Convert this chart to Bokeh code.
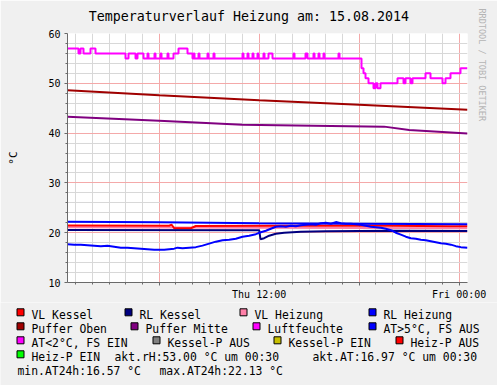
import math
from bokeh.plotting import figure
from bokeh.layouts import column
from bokeh.models import Range1d, FixedTicker, Title, ColumnDataSource
from bokeh.core.properties import value
from bokeh.embed import file_html
from bokeh.resources import INLINE

FONT = "DejaVu Sans Mono"

title_text = "Temperaturverlauf Heizung am: 15.08.2014"
y_label = "°C"
watermark = "RRDTOOL / TOBI OETIKER"

# time in hours since Thu 14.08.2014 00:00
x_start, x_end = 0.5, 24.5
y_min, y_max = 10, 60
x_tick_labels = {6: "", 12: "Thu 12:00", 18: "", 24: "Fri 00:00"}
y_ticks = [10, 20, 30, 40, 50, 60]

# Aussentemperatur (AT)
at_t = [0.5, 0.9, 1.3, 1.7, 2.1, 2.5, 2.9, 3.3, 3.7, 4.1, 4.5, 4.9, 5.3, 5.7, 6.0,
        6.3, 6.6, 6.9, 7.1, 7.4, 7.8, 8.2, 8.6, 9.0, 9.4, 9.8, 10.2, 10.6, 11.0,
        11.4, 11.8, 12.1, 12.4, 12.7, 13.0, 13.3, 13.6, 13.9, 14.2, 14.5, 14.8,
        15.1, 15.4, 15.7, 16.0, 16.3, 16.6, 16.9, 17.2, 17.5, 17.8, 18.1, 18.4,
        18.7, 19.0, 19.3, 19.6, 19.9, 20.2, 20.5, 20.8, 21.1, 21.4, 21.7, 22.0,
        22.3, 22.6, 22.9, 23.2, 23.5, 23.8, 24.1, 24.5]
at_v = [17.7, 17.6, 17.6, 17.5, 17.4, 17.3, 17.4, 17.2, 17.0, 17.0, 16.9, 16.8,
        16.7, 16.6, 16.57, 16.6, 16.7, 16.8, 17.0, 16.9, 17.0, 17.1, 17.4, 17.8,
        18.2, 18.5, 18.6, 18.8, 19.2, 19.4, 19.7, 20.1, 20.4, 20.8, 21.2, 21.3,
        21.2, 21.4, 21.3, 21.5, 21.6, 21.7, 21.6, 21.9, 22.0, 21.8, 22.13, 21.9,
        21.8, 21.8, 21.7, 21.6, 21.4, 21.2, 21.1, 21.0, 20.8, 20.5, 20.0, 19.6,
        19.2, 18.9, 18.8, 18.6, 18.5, 18.3, 18.1, 17.9, 17.8, 17.6, 17.3, 17.1,
        16.97]

# Luftfeuchte (relative humidity, step series)
rh_t = [0.50, 1.16, 1.28, 1.46, 1.88, 2.18, 3.98, 4.16, 4.58, 4.70, 5.06, 5.30,
        5.36, 5.72, 5.78, 6.08, 6.14, 6.50, 6.56, 6.86, 7.16, 7.70, 8.00, 8.06,
        8.12, 8.36, 8.42, 8.90, 8.96, 9.26, 9.32, 11.00, 11.06, 11.30, 11.36,
        11.60, 11.66, 11.90, 11.96, 12.26, 12.32, 12.56, 12.80, 14.06, 14.12,
        14.78, 14.90, 15.26, 15.32, 15.56, 15.62, 15.86, 15.92, 16.76, 16.82,
        18.14, 18.26, 18.38, 18.56, 18.86, 18.98, 19.10, 19.28, 20.30, 20.66,
        20.78, 21.08, 21.20, 21.98, 22.28, 23.00, 23.18, 23.48, 24.08, 24.50]
rh_v = [57, 56, 57, 56, 57, 56, 55, 56, 55, 56, 55, 56,
        55, 56, 55, 56, 55, 56, 55, 56, 57, 56, 55, 56,
        55, 56, 55, 56, 55, 56, 55, 56, 55, 56, 55,
        56, 55, 56, 55, 56, 55, 56, 55, 56, 55,
        56, 55, 56, 55, 56, 55, 56, 55, 56, 55,
        53, 52, 51, 50, 49, 50, 49, 50, 51, 50,
        51, 50, 51, 52, 51, 50, 51, 52, 53, 53]

# Pufferspeicher
po_t = [0.5, 6.0, 12.0, 18.0, 24.5]
po_v = [48.6, 47.6, 46.6, 45.7, 44.7]
pm_t = [0.5, 6.0, 11.0, 19.5, 21.0, 24.5]
pm_v = [43.3, 42.5, 41.7, 41.3, 40.6, 39.9]

# Heizkreis / Kessel
rlh_t = [0.5, 6.0, 12.0, 18.0, 24.5]
rlh_v = [22.2, 22.1, 21.9, 21.8, 21.7]
vlh_t = [0.5, 12.0, 18.0, 24.5]
vlh_v = [21.1, 21.0, 20.95, 20.9]
vlk_t = [0.5, 6.6, 6.75, 6.9, 7.9, 8.2, 18.0, 23.5, 24.5]
vlk_v = [21.45, 21.4, 21.6, 20.9, 20.9, 21.35, 21.45, 21.3, 21.3]
rlk_t = [0.5, 12.0, 12.08, 12.3, 12.6, 13.0, 13.5, 14.5, 16.0, 20.0, 24.5]
rlk_v = [20.55, 20.5, 18.7, 18.9, 19.4, 19.8, 20.0, 20.2, 20.3, 20.4, 20.35]

# legend
legend_names = ["VL Kessel", "RL Kessel", "VL Heizung", "RL Heizung",
                "Puffer Oben", "Puffer Mitte", "Luftfeuchte", "AT>5°C, FS AUS",
                "AT<2°C, FS EIN", "Kessel-P AUS", "Kessel-P EIN", "Heiz-P AUS",
                "Heiz-P EIN"]
legend_colors = ["#ff0000", "#000080", "#ff80a8", "#0000ff",
                 "#a00000", "#800080", "#ff00ff", "#0000ff",
                 "#ff00ff", "#808080", "#c8c000", "#ff0000",
                 "#00ff00"]
info_texts = ["akt.rH:53.00 °C um 00:30", "akt.AT:16.97 °C um 00:30",
              "min.AT24h:16.57 °C", "max.AT24h:22.13 °C"]

# ---------------- layout (pixels of the 497x385 picture) ----------------
W, H = 497, 385
FL, FR, FT, FB = 67, 467, 33, 283     # plot frame
SPLIT = 302                           # top figure / legend strip boundary
BG = "#f0f0f0"

p = figure(width=W, height=SPLIT, output_backend="svg", toolbar_location=None,
           x_range=Range1d(x_start, x_end), y_range=Range1d(y_min, y_max),
           min_border_left=FL, min_border_right=W - FR,
           min_border_top=FT, min_border_bottom=SPLIT - FB)
p.border_fill_color = BG
p.background_fill_color = "#ffffff"
p.outline_line_color = None

minor_h = [h for h in range(1, 25) if h % 6 != 0]
major_h = [6, 12, 18, 24]
minor_y = [v for v in range(12, 60, 2) if v % 10 != 0]

p.xgrid.ticker = FixedTicker(ticks=major_h, minor_ticks=minor_h)
p.ygrid.ticker = FixedTicker(ticks=y_ticks, minor_ticks=minor_y)
for g in (p.xgrid, p.ygrid):
    g.grid_line_color = "#f4a9a9"
    g.grid_line_width = 1
    g.minor_grid_line_color = "#d8d8d8"
    g.minor_grid_line_width = 1

p.xaxis.ticker = FixedTicker(ticks=major_h, minor_ticks=minor_h)
p.xaxis.major_label_overrides = x_tick_labels
p.yaxis.ticker = FixedTicker(ticks=y_ticks, minor_ticks=minor_y)
for ax in (p.xaxis, p.yaxis):
    ax.axis_line_color = "#6a6a6a"
    ax.major_tick_line_color = "#6a6a6a"
    ax.minor_tick_line_color = "#6a6a6a"
    ax.major_tick_in = 0
    ax.major_tick_out = 3
    ax.minor_tick_in = 0
    ax.minor_tick_out = 2
    ax.major_label_text_font = FONT
    ax.major_label_text_font_size = "10px"
    ax.major_label_text_color = "#000000"
p.xaxis.major_label_standoff = 3
p.yaxis.major_label_standoff = 4
p.yaxis.axis_label = y_label
p.yaxis.axis_label_text_font = FONT
p.yaxis.axis_label_text_font_size = "11px"
p.yaxis.axis_label_text_font_style = "normal"
p.yaxis.axis_label_text_color = "#000000"
p.yaxis.axis_label_standoff = 25

# series
p.line(pm_t, pm_v, line_color=legend_colors[5], line_width=2)
p.line(po_t, po_v, line_color=legend_colors[4], line_width=2)
p.step(rh_t, rh_v, mode="after", line_color=legend_colors[6], line_width=2)
p.line(vlh_t, vlh_v, line_color=legend_colors[2], line_width=2)
p.line(vlk_t, vlk_v, line_color=legend_colors[0], line_width=2)
p.line(rlk_t, rlk_v, line_color=legend_colors[1], line_width=2)
p.line(rlh_t, rlh_v, line_color=legend_colors[3], line_width=2)
p.line(at_t, at_v, line_color=legend_colors[7], line_width=2)

# title (above) and watermark (right)
p.add_layout(Title(text=title_text, text_font=FONT, text_font_size="13.3px",
                   text_font_style="normal", text_color="#000000",
                   align="left", offset=88.3 - FL, standoff=15,
                   vertical_align="top"), "above")
p.add_layout(Title(text=watermark, text_font=FONT, text_font_size="8.5px",
                   text_font_style="normal", text_color="#b4b4b4",
                   align="left", offset=8 - FT, standoff=18), "right")

# ---------------- legend strip (second figure, pixel coordinates) -----------
q = figure(width=W, height=H - SPLIT, output_backend="svg", toolbar_location=None,
           x_range=Range1d(0, W), y_range=Range1d(H, SPLIT),
           x_axis_location=None, y_axis_location=None,
           min_border=0, min_border_left=0, min_border_right=0,
           min_border_top=0, min_border_bottom=0)
q.border_fill_color = BG
q.background_fill_color = BG
q.outline_line_color = None
q.grid.visible = False

for fig in (p, q):
    if "frame_align" in fig.properties():
        fig.frame_align = False

rows = [
    [(0, 31), (1, 139), (2, 254), (3, 383)],
    [(4, 31), (5, 145), (6, 267), (7, 383)],
    [(8, 31), (9, 167), (10, 288), (11, 410)],
    [(12, 31)],
]
BASE0, STEP = 314.8, 14      # text baseline of the first legend row, row pitch
BOX = 8

bx_l, bx_r, bx_t, bx_b, bx_c = [], [], [], [], []
tx_x, tx_y, tx_s = [], [], []
for r, row in enumerate(rows):
    yb = BASE0 + r * STEP
    for idx, tx in row:
        bx_l.append(tx - 15 + 0.5)
        bx_r.append(tx - 15 + BOX - 0.5)
        bx_t.append(yb - 7 + 0.5)
        bx_b.append(yb - 7 + BOX - 0.5)
        bx_c.append(legend_colors[idx])
        tx_x.append(tx)
        tx_y.append(yb)
        tx_s.append(legend_names[idx])
for (x, r), t in zip([(114, 3), (312, 3), (17, 4), (159, 4)], info_texts):
    tx_x.append(x)
    tx_y.append(BASE0 + r * STEP)
    tx_s.append(t)

q.quad(source=ColumnDataSource(dict(l=bx_l, r=bx_r, t=bx_t, b=bx_b, c=bx_c)),
       left="l", right="r", top="t", bottom="b", fill_color="c",
       line_color="#000000", line_width=1)
q.text(source=ColumnDataSource(dict(x=tx_x, y=tx_y, s=tx_s)), x="x", y="y",
       text="s", text_font=value(FONT), text_font_size=value("11.4px"),
       text_color="#000000", text_baseline="alphabetic", text_align="left")

layout = column(p, q, spacing=0)
open("out.html", "w").write(file_html(layout, INLINE))
